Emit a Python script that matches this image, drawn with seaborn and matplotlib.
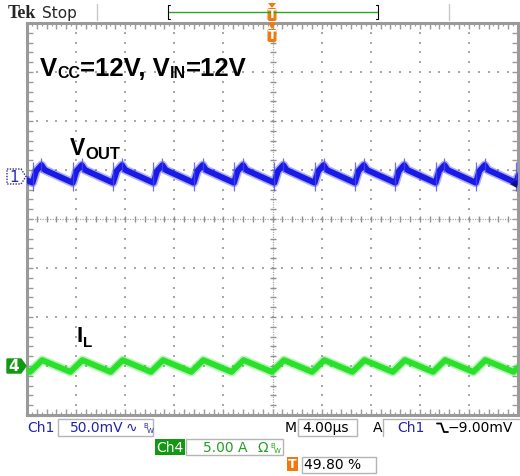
import numpy as np
import pandas as pd
import seaborn as sns
import matplotlib.pyplot as plt
from matplotlib.patches import Rectangle, Polygon, FancyBboxPatch

sns.set_style("white")
plt.rcParams['font.family'] = ['DejaVu Sans']

# Werte vom Schirm abgelesen: Zeit in us (4 us/div), Pegel in Divisionen ab Bildmitte
# Ch1 = V_OUT Welligkeit (50 mV/div)
vout_trough_t = [0.45, 3.73, 7.01, 10.30, 13.58, 16.86, 20.15, 23.43, 26.71, 30.00, 33.28, 36.56, 39.84]
vout_rise_t = [0.75, 4.03, 7.31, 10.60, 13.88, 17.16, 20.45, 23.73, 27.01, 30.30, 33.58, 36.86]
vout_peak_t = [1.18, 4.46, 7.74, 11.03, 14.31, 17.59, 20.88, 24.16, 27.44, 30.73, 34.01, 37.29]
vout_knee_t = [1.45, 4.73, 8.01, 11.30, 14.58, 17.86, 21.15, 24.43, 27.71, 31.00, 34.28, 37.56]
vout_trough_v = 0.74
vout_rise_v = 0.98
vout_peak_v = 1.10
vout_knee_v = 1.00
vout_edge_t = [0.0, 40.0]
vout_edge_v = [0.79, 0.87]

# Ch4 = Spulenstrom I_L (5 A/div)
il_trough_t = [0.25, 3.53, 6.81, 10.10, 13.38, 16.66, 19.95, 23.23, 26.51, 29.80, 33.08, 36.36, 39.64]
il_peak_t = [1.23, 4.51, 7.79, 11.08, 14.36, 17.64, 20.93, 24.21, 27.49, 30.78, 34.06, 37.34]
il_trough_v = -3.12
il_peak_v = -2.88
il_edge_t = [0.0, 40.0]
il_edge_v = [-3.09, -3.03]

# Daten zusammenbauen
vout = pd.DataFrame({
    "t": vout_trough_t + vout_rise_t + vout_peak_t + vout_knee_t + vout_edge_t,
    "v": [vout_trough_v] * len(vout_trough_t) + [vout_rise_v] * len(vout_rise_t)
         + [vout_peak_v] * len(vout_peak_t) + [vout_knee_v] * len(vout_knee_t) + vout_edge_v,
}).sort_values("t")
il = pd.DataFrame({
    "t": il_trough_t + il_peak_t + il_edge_t,
    "v": [il_trough_v] * len(il_trough_t) + [il_peak_v] * len(il_peak_t) + il_edge_v,
}).sort_values("t")

fig = plt.figure(figsize=(5.2, 4.76), dpi=100)
fig.patch.set_facecolor("white")
ax = fig.add_axes([27 / 520, 61 / 476, 491 / 520, 392 / 476])
ax.set_xlim(0, 40)
ax.set_ylim(-4, 4)

# Raster im Tek-Stil
grid_c = "#a8a8a8"
minor_x = np.arange(0, 40.001, 0.8)
minor_y = np.arange(-4, 4.001, 0.2)
for xv in range(4, 40, 4):
    if xv != 20:
        ax.scatter([xv] * len(minor_y), minor_y, s=2, c=grid_c, marker="s", lw=0, zorder=1)
for yv in [-3, -2, -1, 1, 2, 3]:
    ax.scatter(minor_x, [yv] * len(minor_x), s=2, c=grid_c, marker="s", lw=0, zorder=1)
ax.axhline(0, color=grid_c, lw=0.9, ls=(0, (1, 1)), zorder=1)
ax.axvline(20, color=grid_c, lw=0.9, ls=(0, (1, 1)), zorder=1)
ax.plot(minor_x, np.zeros_like(minor_x), ls="none", marker="|", ms=5, mew=1, color="#909090", zorder=1)
ax.plot(np.full_like(minor_y, 20), minor_y, ls="none", marker="_", ms=5, mew=1, color="#909090", zorder=1)

# Kurven: heller Saum + Kern
for lw, a in [(6.5, 0.35), (4.2, 1.0)]:
    sns.lineplot(data=vout, x="t", y="v", ax=ax, color="#1a1ae6", lw=lw, alpha=a,
                 estimator=None, sort=False, zorder=3)
    sns.lineplot(data=il, x="t", y="v", ax=ax, color="#2ae02a", lw=lw, alpha=a,
                 estimator=None, sort=False, zorder=3)
ax.vlines(vout_trough_t, 0.58, 1.16, color="#4a4af0", lw=0.9, alpha=0.8, zorder=4)
ax.vlines(vout_peak_t, 0.95, 1.25, color="#4a4af0", lw=0.9, alpha=0.8, zorder=4)

ax.set_xlabel("")
ax.set_ylabel("")
ax.set_xticks(minor_x)
ax.set_yticks(minor_y)
ax.set_xticks(np.arange(0, 40.001, 0.4), minor=True)
ax.tick_params(which="both", direction="in", top=True, right=True, bottom=True, left=True,
               labelbottom=False, labelleft=False, color="#9a9a9a")
ax.tick_params(which="major", length=4, width=1)
ax.tick_params(which="minor", length=2, width=0.8)
for sp in ax.spines.values():
    sp.set_color("#9a9a9a")
    sp.set_linewidth(2.2)

# Overlay in Pixelkoordinaten fuer Beschriftungen
ov = fig.add_axes([0, 0, 1, 1], zorder=5)
ov.set_xlim(0, 520)
ov.set_ylim(476, 0)
ov.axis("off")


def chain(x, y, parts, **kw):
    prev = ov.text(x, y, parts[0][0], fontsize=parts[0][1], va="baseline", ha="left", **kw)
    for s, size, dy in parts[1:]:
        prev = ov.annotate(s, xy=(1, 0), xycoords=prev, xytext=(0, dy), textcoords="offset points",
                           fontsize=size, va="bottom", ha="left", **kw)
    return prev


bold = dict(family=["Liberation Sans", "DejaVu Sans"], fontweight="bold", color="black")
chain(40, 76, [("V", 18.5), ("CC", 11.5, 0), ("=12V, V", 18.5, 0), ("IN", 11.5, 0), ("=12V", 18.5, 0)], **bold)
chain(70, 155, [("V", 16.5), ("OUT", 12, -1.6)], **bold)
chain(77, 342, [("I", 16), ("L", 11, -2)], **bold)

# Kanalmarken links
ov.add_patch(Polygon([(7, 169), (21, 169), (26, 176.5), (21, 184), (7, 184)], closed=True,
                     fc="white", ec="#2a2ab0", lw=1, ls=(0, (1, 1))))
ov.text(14, 177, "1", color="#2a2ab0", fontsize=11, ha="center", va="center")
ov.add_patch(Polygon([(7, 359), (21, 359), (26, 366), (21, 373), (7, 373)], closed=True,
                     fc="#119911", ec="#119911", lw=1))
ov.text(14, 366.5, "4", color="white", fontsize=11, ha="center", va="center", fontweight="bold")

# Triggerpegel rechts
ov.add_patch(Polygon([(510, 184), (517, 180), (517, 188)], closed=True, fc="#10107a", ec="none"))

# Kopfzeile
ov.text(8, 18, "Tek", family=["Liberation Serif", "DejaVu Serif"], fontweight="bold", fontsize=13)
ov.text(42, 18, "Stop", fontsize=11)
ov.plot([97, 97], [4, 20], color="#c8c8c8", lw=1)
ov.plot([449, 449], [4, 20], color="#c8c8c8", lw=1)
ov.plot([169, 378], [12, 12], color="#22aa22", lw=1)
ov.plot([170, 168, 168, 170], [5, 5, 19, 19], color="black", lw=0.8)
ov.plot([376, 378, 378, 376], [5, 5, 19, 19], color="black", lw=0.8)
orange = "#f07a10"
for ty, tri in [(8, (3, 8)), (29, (23, 29))]:
    ov.add_patch(Polygon([(268, tri[0]), (276, tri[0]), (272, tri[1])], closed=True, fc=orange, ec="none"))
    ov.add_patch(FancyBboxPatch((267.5, ty), 9, 13, boxstyle="round,pad=0,rounding_size=2",
                                fc=orange, ec="none"))
    ov.text(272, ty + 6.8, "T", color="white", fontsize=9, fontweight="bold", ha="center", va="center")

# Fusszeile
blue_t = "#2424a8"
green_t = "#22a022"
box_ec = "#b4b4b4"
fs = 10
ov.text(27, 432, "Ch1", color=blue_t, fontsize=fs)
ov.add_patch(Rectangle((58, 419), 95, 17, fc="white", ec=box_ec, lw=1))
ov.text(70, 432, "50.0mV", color=blue_t, fontsize=fs)
ov.text(126, 432, "\u223f", color=blue_t, fontsize=fs)
ov.text(143, 428, "B", color=blue_t, fontsize=5)
ov.text(147, 433, "W", color=blue_t, fontsize=5)
ov.text(285, 432, "M", color="black", fontsize=fs)
ov.add_patch(Rectangle((298, 419), 59, 17, fc="white", ec=box_ec, lw=1))
ov.text(302, 432, "4.00\u00b5s", color="black", fontsize=fs)
ov.text(373, 432, "A", color="black", fontsize=fs)
ov.plot([383, 383, 520], [436, 419, 419], color=box_ec, lw=1)
ov.text(397, 432, "Ch1", color=blue_t, fontsize=fs)
ov.plot([437, 441, 444, 448], [423.5, 423.5, 432, 432], color="black", lw=1.3)
ov.text(448, 432, "\u22129.00mV", color="black", fontsize=fs)

ov.add_patch(Rectangle((155, 439), 30, 16, fc="#119911", ec="none"))
ov.text(170, 452, "Ch4", color="white", fontsize=fs, ha="center")
ov.add_patch(Rectangle((186, 439), 97, 16, fc="white", ec=box_ec, lw=1))
ov.text(203, 452, "5.00 A", color=green_t, fontsize=fs)
ov.text(258, 452, "\u03a9", color=green_t, fontsize=fs)
ov.text(270, 448, "B", color=green_t, fontsize=5)
ov.text(274, 453, "W", color=green_t, fontsize=5)

ov.add_patch(Rectangle((287, 457), 11, 14, fc=orange, ec="none"))
ov.text(292.5, 464.5, "T", color="white", fontsize=9, fontweight="bold", ha="center", va="center")
ov.add_patch(Rectangle((302, 457), 74, 16, fc="white", ec=box_ec, lw=1))
ov.text(304, 469, "49.80 %", color="black", fontsize=fs)

fig.savefig("out.png", dpi=100)
